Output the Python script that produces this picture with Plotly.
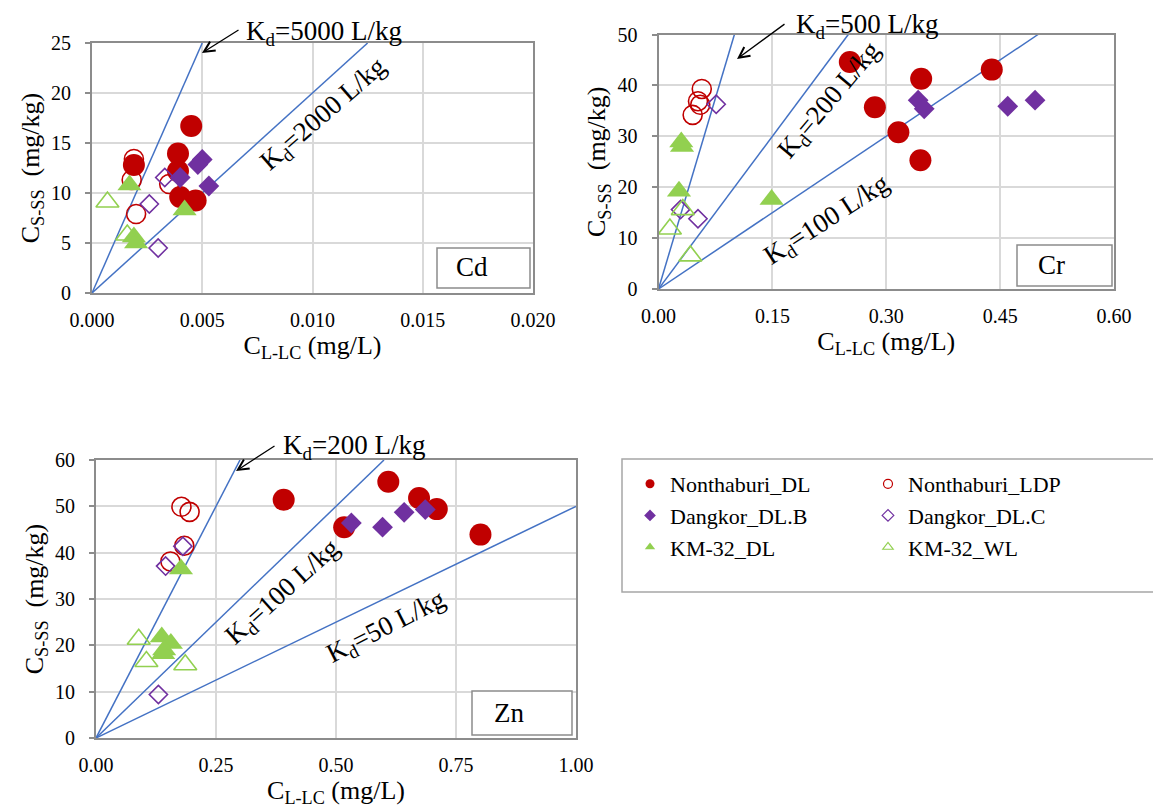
import plotly.graph_objects as go

W, H = 1161, 810
FONT = "'Liberation Serif', 'Times New Roman', 'DejaVu Serif', serif"

# ---------------- data ----------------
series_names = ["Nonthaburi_DL", "Nonthaburi_LDP", "Dangkor_DL.B",
                "Dangkor_DL.C", "KM-32_DL", "KM-32_WL"]

# Cd panel (x: mg/L, y: mg/kg)
cd_nth_dl_x = [0.0045, 0.0039, 0.0019, 0.0039, 0.0040, 0.0047]
cd_nth_dl_y = [16.7, 13.95, 12.8, 12.2, 9.6, 9.25]
cd_nth_ldp_x = [0.0019, 0.0018, 0.0035, 0.0020]
cd_nth_ldp_y = [13.4, 11.3, 10.9, 7.9]
cd_dk_b_x = [0.0050, 0.0048, 0.0040, 0.0053]
cd_dk_b_y = [13.35, 12.85, 11.55, 10.7]
cd_dk_c_x = [0.0033, 0.0026, 0.0030]
cd_dk_c_y = [11.55, 8.9, 4.5]
cd_km_dl_x = [0.0017, 0.0019, 0.0020, 0.0042]
cd_km_dl_y = [10.8, 5.6, 5.0, 8.3]
cd_km_wl_x = [0.0007, 0.0016]
cd_km_wl_y = [9.1, 5.8]

# Cr panel
cr_nth_dl_x = [0.252, 0.346, 0.285, 0.316, 0.345, 0.439]
cr_nth_dl_y = [44.6, 41.3, 35.7, 30.8, 25.3, 43.1]
cr_nth_ldp_x = [0.057, 0.052, 0.055, 0.045]
cr_nth_ldp_y = [39.3, 36.9, 36.2, 34.2]
cr_dk_b_x = [0.342, 0.350, 0.460, 0.496]
cr_dk_b_y = [37.1, 35.4, 35.9, 37.1]
cr_dk_c_x = [0.076, 0.029, 0.052]
cr_dk_c_y = [36.3, 15.6, 13.8]
cr_km_dl_x = [0.030, 0.031, 0.027, 0.149]
cr_km_dl_y = [28.9, 28.0, 19.2, 17.6]
cr_km_wl_x = [0.015, 0.042, 0.032]
cr_km_wl_y = [11.8, 6.5, 15.6]

# Zn panel
zn_nth_dl_x = [0.391, 0.609, 0.673, 0.710, 0.517, 0.801]
zn_nth_dl_y = [51.4, 55.3, 51.8, 49.4, 45.5, 43.9]
zn_nth_ldp_x = [0.178, 0.195, 0.184, 0.155]
zn_nth_ldp_y = [49.9, 48.8, 41.5, 38.1]
zn_dk_b_x = [0.532, 0.597, 0.642, 0.686]
zn_dk_b_y = [46.4, 45.5, 48.7, 49.3]
zn_dk_c_x = [0.181, 0.145, 0.130]
zn_dk_c_y = [41.4, 37.1, 9.4]
zn_km_dl_x = [0.177, 0.137, 0.156, 0.142, 0.140]
zn_km_dl_y = [36.5, 21.8, 20.4, 19.0, 18.2]
zn_km_wl_x = [0.089, 0.105, 0.186]
zn_km_wl_y = [21.3, 16.5, 15.8]

# Kd reference lines (L/kg)
cd_kd = [5000, 2000]
cr_kd = [500, 200, 100]
zn_kd = [200, 100, 50]

# tick values
cd_xticks = [0.000, 0.005, 0.010, 0.015, 0.020]
cd_yticks = [0, 5, 10, 15, 20, 25]
cr_xticks = [0.00, 0.15, 0.30, 0.45, 0.60]
cr_yticks = [0, 10, 20, 30, 40, 50]
zn_xticks = [0.00, 0.25, 0.50, 0.75, 1.00]
zn_yticks = [0, 10, 20, 30, 40, 50, 60]

# ---------------- styles ----------------
RED = "#C00000"
PURPLE = "#7030A0"
GREEN = "#92D050"
BLUE = "#4472C4"

styles = [
    dict(symbol="circle", color=RED, size=22, line=0),
    dict(symbol="circle-open", color=RED, size=19, line=1.6),
    dict(symbol="diamond", color=PURPLE, size=16, line=0),
    dict(symbol="diamond-open", color=PURPLE, size=14, line=1.6),
    dict(symbol="triangle-up", color=GREEN, size=21, line=0),
    dict(symbol="triangle-up-open", color=GREEN, size=20, line=1.6),
]

panels = [
    dict(xa="x", ya="y", kd=cd_kd, xmax=0.020, ymax=25,
         data=[(cd_nth_dl_x, cd_nth_dl_y), (cd_nth_ldp_x, cd_nth_ldp_y),
               (cd_dk_b_x, cd_dk_b_y), (cd_dk_c_x, cd_dk_c_y),
               (cd_km_dl_x, cd_km_dl_y), (cd_km_wl_x, cd_km_wl_y)]),
    dict(xa="x2", ya="y2", kd=cr_kd, xmax=0.60, ymax=50,
         data=[(cr_nth_dl_x, cr_nth_dl_y), (cr_nth_ldp_x, cr_nth_ldp_y),
               (cr_dk_b_x, cr_dk_b_y), (cr_dk_c_x, cr_dk_c_y),
               (cr_km_dl_x, cr_km_dl_y), (cr_km_wl_x, cr_km_wl_y)]),
    dict(xa="x3", ya="y3", kd=zn_kd, xmax=1.00, ymax=60,
         data=[(zn_nth_dl_x, zn_nth_dl_y), (zn_nth_ldp_x, zn_nth_ldp_y),
               (zn_dk_b_x, zn_dk_b_y), (zn_dk_c_x, zn_dk_c_y),
               (zn_km_dl_x, zn_km_dl_y), (zn_km_wl_x, zn_km_wl_y)]),
]

fig = go.Figure()

for p in panels:
    for kd in p["kd"]:
        x_end = min(p["xmax"], p["ymax"] / kd)
        fig.add_trace(go.Scatter(
            x=[0, x_end], y=[0, kd * x_end], mode="lines",
            line=dict(color=BLUE, width=1.5), xaxis=p["xa"], yaxis=p["ya"],
            showlegend=False, hoverinfo="skip"))
    for (xs, ys), st, nm in zip(p["data"], styles, series_names):
        fig.add_trace(go.Scatter(
            x=xs, y=ys, mode="markers", name=nm, showlegend=False,
            xaxis=p["xa"], yaxis=p["ya"],
            marker=dict(symbol=st["symbol"], color=st["color"], size=st["size"],
                        line=dict(color=st["color"], width=st["line"]))))

# legend-only entries (small symbols like the reference)
for i, (st, nm) in enumerate(zip(styles, series_names)):
    fig.add_trace(go.Scatter(
        x=[None], y=[None], mode="markers", name=nm,
        legend="legend" if i % 2 == 0 else "legend2",
        marker=dict(symbol=st["symbol"], color=st["color"], size=9,
                    line=dict(color=st["color"], width=1.2 if st["line"] else 0))))


def px_x(v):
    return v / W


def px_y(v):
    return 1 - v / H


def axis_common(rng, ticks, fmt):
    return dict(range=rng, tickvals=ticks, tickformat=fmt,
                showline=True, linecolor="#8c8c8c", linewidth=2, mirror=True,
                showgrid=True, gridcolor="#d9d9d9", gridwidth=1.5,
                zeroline=False, tickfont=dict(family=FONT, size=20, color="black"))


xt = "C<sub>L-LC</sub> (mg/L)"
yt = "C<sub>S-SS</sub>  (mg/kg)"
tfont = dict(family=FONT, size=26, color="black")

layout_axes = {}
doms = [
    ((84, 525), (35, 285)),
    ((650.5, 1106), (26.5, 281)),
    ((88, 568), (452, 730)),
]
axnames = [("xaxis", "yaxis"), ("xaxis2", "yaxis2"), ("xaxis3", "yaxis3")]
xt_list = [(cd_xticks, ".3f"), (cr_xticks, ".2f"), (zn_xticks, ".2f")]
yt_list = [cd_yticks, cr_yticks, zn_yticks]
for k, (p, (xd, yd), (xn, yn)) in enumerate(zip(panels, doms, axnames)):
    xa = axis_common([0, p["xmax"]], xt_list[k][0], xt_list[k][1])
    xa.update(domain=[px_x(xd[0]), px_x(xd[1])], anchor=p["ya"],
              ticks="outside", ticklen=8, tickcolor="rgba(0,0,0,0)",
              title=dict(text=xt, font=tfont, standoff=4))
    ya = axis_common([0, p["ymax"]], yt_list[k], "d")
    ya.update(domain=[px_y(yd[1]), px_y(yd[0])], anchor=p["xa"],
              ticks="outside", ticklen=5, tickcolor="#8c8c8c", tickwidth=1.5,
              ticklabelstandoff=10,
              title=dict(text=yt, font=tfont, standoff=4))
    layout_axes[xn] = xa
    layout_axes[yn] = ya

afont = dict(family=FONT, size=27, color="black")
annotations = []
shapes = []

# arrows (head position, tail offset in px)
for head, tail in [((194, 45), (232, 21)), ((729, 51), (778, 15)), ((228, 463), (268, 437))]:
    annotations.append(dict(
        x=px_x(head[0]), y=px_y(head[1]), xref="paper", yref="paper",
        ax=tail[0] - head[0], ay=tail[1] - head[1], axref="pixel", ayref="pixel",
        text="", showarrow=True, arrowhead=5, arrowsize=1.6, arrowwidth=1.3,
        arrowcolor="black"))

# horizontal labels beside arrows
for txt, (lx, ly) in [("K<sub>d</sub>=5000 L/kg", (236, 25)),
                      ("K<sub>d</sub>=500 L/kg", (786, 18)),
                      ("K<sub>d</sub>=200 L/kg", (273, 439))]:
    annotations.append(dict(x=px_x(lx), y=px_y(ly), xref="paper", yref="paper",
                            text=txt, showarrow=False, xanchor="left",
                            yanchor="middle", font=afont))

# rotated labels along lines
for txt, (cx, cy), ang in [("K<sub>d</sub>=2000 L/kg", (316, 107), -41),
                           ("K<sub>d</sub>=200 L/kg", (822, 93), -50),
                           ("K<sub>d</sub>=100 L/kg", (819, 213), -33),
                           ("K<sub>d</sub>=100 L/kg", (275, 585), -42),
                           ("K<sub>d</sub>=50 L/kg", (378, 620), -27)]:
    annotations.append(dict(x=px_x(cx), y=px_y(cy), xref="paper", yref="paper",
                            text=txt, showarrow=False, textangle=ang,
                            xanchor="center", yanchor="middle", font=afont))

# metal labels in boxes
for txt, (x0, y0, x1, y1), (tx, ty) in [("Cd", (429, 240, 522, 280), (464, 259)),
                                        ("Cr", (1009, 237, 1104, 278), (1043, 257)),
                                        ("Zn", (464, 683, 564, 727), (501, 705))]:
    shapes.append(dict(type="rect", xref="paper", yref="paper",
                       x0=px_x(x0), x1=px_x(x1), y0=px_y(y1), y1=px_y(y0),
                       line=dict(color="#8c8c8c", width=1.5), fillcolor="white"))
    annotations.append(dict(x=px_x(tx), y=px_y(ty), xref="paper", yref="paper",
                            text=txt, showarrow=False, xanchor="center",
                            yanchor="middle", font=afont))

# legend frame
shapes.append(dict(type="rect", xref="paper", yref="paper",
                   x0=px_x(614), x1=px_x(1158), y0=px_y(584), y1=px_y(451),
                   line=dict(color="#a6a6a6", width=1.5), fillcolor="rgba(0,0,0,0)"))

lfont = dict(family=FONT, size=22, color="black")
fig.update_layout(
    width=W, height=H, template="none",
    margin=dict(l=0, r=0, t=0, b=0),
    paper_bgcolor="white", plot_bgcolor="white",
    font=dict(family=FONT, color="black"),
    annotations=annotations, shapes=shapes,
    legend=dict(x=px_x(622), y=px_y(455), xanchor="left", yanchor="top",
                font=lfont, bgcolor="rgba(0,0,0,0)", borderwidth=0,
                tracegroupgap=0, itemclick=False),
    legend2=dict(x=px_x(860), y=px_y(455), xanchor="left", yanchor="top",
                 font=lfont, bgcolor="rgba(0,0,0,0)", borderwidth=0,
                 tracegroupgap=0, itemclick=False),
    **layout_axes,
)

fig.write_html("out.html")
